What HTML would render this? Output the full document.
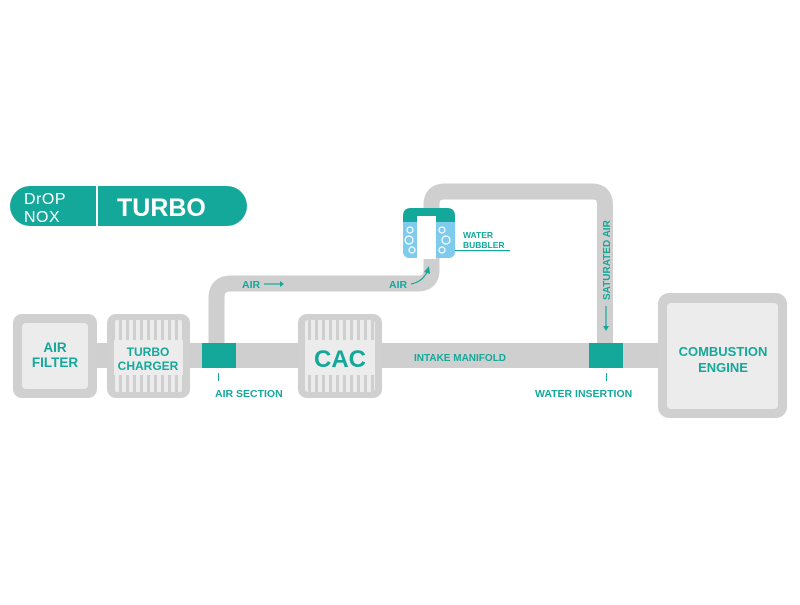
<!DOCTYPE html><html><head><style>
body{margin:0;width:800px;height:600px;background:#fff;overflow:hidden;font-family:"Liberation Sans",sans-serif}
</style></head><body>
<svg width="800" height="600" xmlns="http://www.w3.org/2000/svg" font-family="Liberation Sans, sans-serif" font-weight="bold">
<defs>
<pattern id="st" width="7" height="10" patternUnits="userSpaceOnUse"><rect width="7" height="10" fill="#ececec"/><rect x="0" width="3" height="10" fill="#cfcfcf"/></pattern>
</defs>
<rect x="95" y="343" width="565" height="25" fill="#cfcfcf"/>
<path d="M216.5 345 V298 Q216.5 283.5 231 283.5 H418 Q431.5 283.5 431.5 270 V250" fill="none" stroke="#cfcfcf" stroke-width="16"/>
<path d="M431.5 215 V205 Q431.5 191.5 445 191.5 H592 Q605 191.5 605 205 V345" fill="none" stroke="#cfcfcf" stroke-width="16"/>
<rect x="10" y="186" width="237" height="40" rx="20" fill="#14a89a"/>
<rect x="96" y="186" width="2" height="40" fill="#fff"/>
<text x="24" y="204" font-size="16" font-weight="normal" fill="#fff" letter-spacing="0.5">DrOP</text>
<text x="24" y="222" font-size="16" font-weight="normal" fill="#fff" letter-spacing="0.5">NOX</text>
<text x="117" y="216" font-size="25" fill="#fff">TURBO</text>
<rect x="13" y="314" width="84" height="84" rx="9" fill="#d0d0d0"/>
<rect x="22" y="323" width="66" height="66" rx="4" fill="#ececec"/>
<text x="55" y="352" font-size="13.5" fill="#14a89a" text-anchor="middle">AIR</text>
<text x="55" y="367" font-size="13.5" fill="#14a89a" text-anchor="middle">FILTER</text>
<rect x="107" y="314" width="83" height="84" rx="9" fill="#d0d0d0"/>
<rect x="114" y="320" width="69" height="72" rx="3" fill="url(#st)"/>
<rect x="114" y="340" width="69" height="35" fill="#ececec"/>
<text x="148" y="356" font-size="12" fill="#14a89a" text-anchor="middle">TURBO</text>
<text x="148" y="370" font-size="12" fill="#14a89a" text-anchor="middle">CHARGER</text>
<rect x="298" y="314" width="84" height="84" rx="9" fill="#d0d0d0"/>
<rect x="305" y="320" width="70" height="72" rx="3" fill="url(#st)"/>
<rect x="305" y="340" width="70" height="35" fill="#ececec"/>
<text x="340" y="367" font-size="24" fill="#14a89a" text-anchor="middle">CAC</text>
<rect x="658" y="293" width="129" height="125" rx="11" fill="#d0d0d0"/>
<rect x="667" y="303" width="111" height="106" rx="4" fill="#ececec"/>
<text x="723" y="356" font-size="13" fill="#14a89a" text-anchor="middle">COMBUSTION</text>
<text x="723" y="372" font-size="13" fill="#14a89a" text-anchor="middle">ENGINE</text>
<rect x="202" y="343" width="34" height="25" fill="#14a89a"/>
<rect x="589" y="343" width="34" height="25" fill="#14a89a"/>
<rect x="218" y="373" width="1" height="8" fill="#14a89a"/>
<rect x="606" y="373" width="1" height="8" fill="#14a89a"/>
<text x="215" y="397" font-size="10.5" fill="#14a89a">AIR SECTION</text>
<text x="535" y="397" font-size="10.5" fill="#14a89a">WATER INSERTION</text>
<text x="414" y="361" font-size="10" fill="#14a89a">INTAKE MANIFOLD</text>
<text x="242" y="288" font-size="10.5" fill="#14a89a">AIR</text>
<path d="M264 284 H280" stroke="#14a89a" stroke-width="1.2"/><path d="M280 281 L284 284 L280 287Z" fill="#14a89a"/>
<text x="389" y="288" font-size="10.5" fill="#14a89a">AIR</text>
<path d="M411 284 Q422 282 427 272" fill="none" stroke="#14a89a" stroke-width="1.2"/><path d="M424 272 L429 266 L430 274Z" fill="#14a89a"/>
<text transform="translate(610,300) rotate(-90)" font-size="10" fill="#14a89a">SATURATED AIR</text>
<path d="M606 306 V326" stroke="#14a89a" stroke-width="1.2"/><path d="M603 326 L606 331 L609 326Z" fill="#14a89a"/>
<rect x="403" y="214" width="52" height="44" rx="6" fill="#7fcbee"/>
<path d="M403 222 V216 Q403 208 411 208 H447 Q455 208 455 216 V222Z" fill="#14a89a"/>
<rect x="417" y="216" width="19" height="43" fill="#fff"/>
<g fill="none" stroke="#fff" stroke-width="1.2">
<circle cx="410" cy="230" r="3"/><circle cx="409" cy="240" r="4"/><circle cx="412" cy="250" r="3"/>
<circle cx="442" cy="230" r="3"/><circle cx="446" cy="240" r="4"/><circle cx="442" cy="250" r="3"/>
</g>
<text x="463" y="238" font-size="8.5" fill="#14a89a">WATER</text>
<text x="463" y="248" font-size="8.5" fill="#14a89a">BUBBLER</text>
<rect x="455" y="250" width="55" height="1.2" fill="#14a89a"/>
</svg>
</body></html>
